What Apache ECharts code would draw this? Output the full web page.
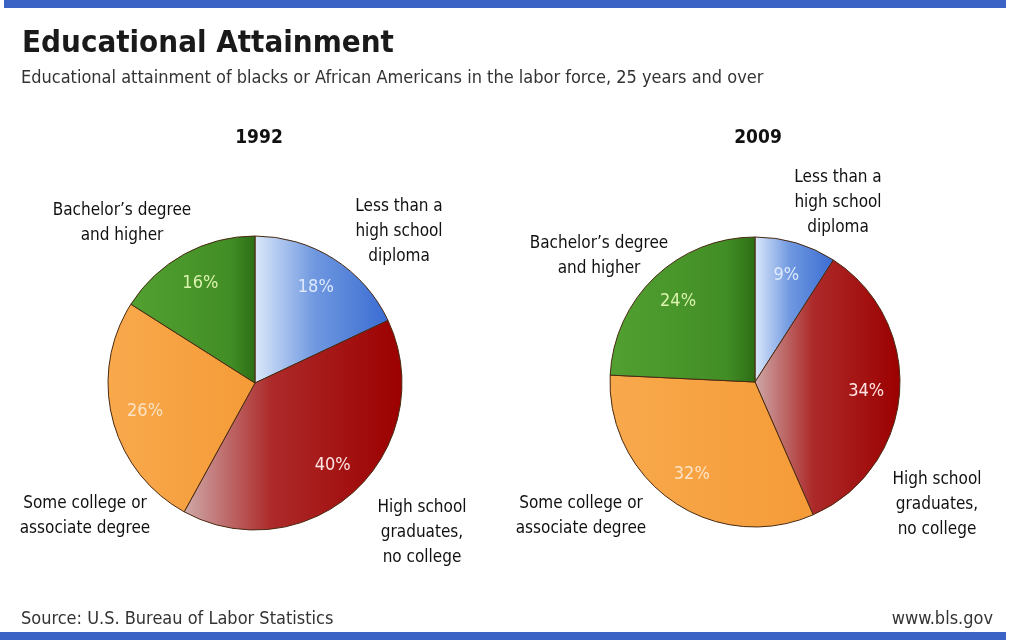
<!DOCTYPE html>
<html>
<head>
<meta charset="utf-8">
<script src="https://cdn.jsdelivr.net/npm/echarts@6/dist/echarts.min.js"></script>
<style>
  html, body { margin: 0; padding: 0; background: #fff; }
  #chart { width: 1013px; height: 640px; }
</style>
</head>
<body>
<div id="chart"></div>
<script>
// data
const categories = [
  'Less than a\nhigh school\ndiploma',
  'High school\ngraduates,\nno college',
  'Some college or\nassociate degree',
  'Bachelor\u2019s degree\nand higher'
]
const years = ['1992', '2009']
const values1992 = [18, 40, 26, 16]
const values2009 = [9, 34, 32, 24]

const FONT = "'Liberation Sans Narrow', 'DejaVu Sans Condensed', 'Noto Sans', sans-serif"

// slice fills: blue, red, orange, green
const grad = (stops) => new echarts.graphic.LinearGradient(0, 0, 1, 0,
  stops.map(s => ({ offset: s[0], color: s[1] })))
const fills = [
  grad([[0, '#dbe8fa'], [0.45, '#6f98e0'], [1, '#3a6cd2']]),
  grad([[0, '#cfa9a9'], [0.4, '#ad2a2a'], [1, '#9c0000']]),
  grad([[0, '#f8a94c'], [1, '#f59b38']]),
  grad([[0, '#52a031'], [0.8, '#428e26'], [1, '#2c6d14']])
]
const pctColors = ['#dfeaff', '#ffe4e4', '#fde3c6', '#dcf3ae']

// outer label spots per chart
const outerPos = [
  [[399, 232], [422, 533], [85, 516], [122, 223]],
  [[838, 203], [937, 505], [581, 516], [599, 256]]
]
const centers = [[255, 383], [755, 382]]
const radii = [147, 145]

let myCharts = echarts.init(document.getElementById('chart'))

function pieSeries(vals, idx) {
  return {
    type: 'pie',
    center: centers[idx],
    radius: radii[idx],
    startAngle: 90,
    clockwise: true,
    silent: true,
    animation: false,
    itemStyle: { borderColor: '#4a2a12', borderWidth: 1 },
    label: {
      show: true,
      position: 'outside',
      formatter: '{b}',
      fontFamily: FONT,
      fontSize: 17,
      lineHeight: 25,
      color: '#111',
      align: 'center',
      overflow: 'none',
      width: 200
    },
    labelLine: { show: false },
    labelLayout: (params) => ({
      x: outerPos[idx][params.dataIndex][0],
      y: outerPos[idx][params.dataIndex][1],
      align: 'center',
      verticalAlign: 'middle'
    }),
    data: vals.map((v, i) => ({
      name: categories[i],
      value: v,
      itemStyle: { color: fills[i] }
    }))
  }
}

function pctSeries(vals, idx) {
  return {
    type: 'pie',
    center: centers[idx],
    radius: [radii[idx] - 74, radii[idx] + 1],
    startAngle: 90,
    clockwise: true,
    silent: true,
    animation: false,
    z: 5,
    itemStyle: { color: 'rgba(0,0,0,0)', borderWidth: 0 },
    label: {
      show: true,
      position: 'inside',
      formatter: '{c}%',
      fontFamily: FONT,
      fontSize: 18
    },
    labelLine: { show: false },
    data: vals.map((v, i) => ({
      name: categories[i],
      value: v,
      label: { color: pctColors[i] }
    }))
  }
}

let options = {
  backgroundColor: '#fff',
  title: [
    {
      text: 'Educational Attainment',
      left: 17, top: 23,
      textStyle: { fontFamily: FONT, fontSize: 31, fontWeight: 'bold', color: '#1a1a1a' }
    },
    {
      text: 'Educational attainment of blacks or African Americans in the labor force, 25 years and over',
      left: 16, top: 64,
      textStyle: { fontFamily: FONT, fontSize: 18, fontWeight: 'normal', color: '#333' }
    },
    {
      text: years[0],
      left: 254, top: 124, textAlign: 'center',
      textStyle: { fontFamily: FONT, fontSize: 19, fontWeight: 'bold', color: '#111' }
    },
    {
      text: years[1],
      left: 753, top: 124, textAlign: 'center',
      textStyle: { fontFamily: FONT, fontSize: 19, fontWeight: 'bold', color: '#111' }
    },
    {
      text: 'Source: U.S. Bureau of Labor Statistics',
      left: 16, top: 605,
      textStyle: { fontFamily: FONT, fontSize: 18, fontWeight: 'normal', color: '#333' }
    },
    {
      text: 'www.bls.gov',
      right: 15, top: 605,
      textStyle: { fontFamily: FONT, fontSize: 18, fontWeight: 'normal', color: '#333' }
    }
  ],
  graphic: [
    { type: 'rect', shape: { x: 4, y: 0, width: 1002, height: 8 }, style: { fill: '#3b63c6' } },
    { type: 'rect', shape: { x: 0, y: 632, width: 1006, height: 8 }, style: { fill: '#3b63c6' } }
  ],
  series: [
    pieSeries(values1992, 0),
    pctSeries(values1992, 0),
    pieSeries(values2009, 1),
    pctSeries(values2009, 1)
  ]
}
myCharts.setOption(options)
</script>
</body>
</html>
